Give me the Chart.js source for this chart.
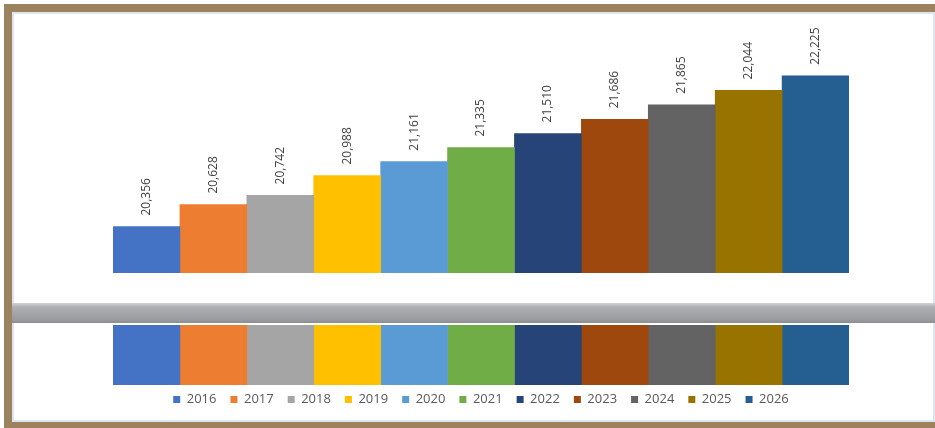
<!DOCTYPE html>
<html>
<head>
<meta charset="utf-8">
<script src="https://cdn.jsdelivr.net/npm/chart.js@4.4.1/dist/chart.umd.min.js"></script>
<style>
    html, body { margin: 0; padding: 0; background: #fff; overflow: hidden; }
    .stage { width: 935px; height: 428px; position: relative; overflow: hidden; }
    .frame {
        position: absolute; left: 4px; top: 4px;
        width: 923px; height: 410px;
        border-style: solid;
        border-color: #9d8260;
        border-width: 8px 0 8px 8px;
        box-shadow: inset 0 0 0 2px #dde6ee;
    }
    .top-wrap    { position: absolute; left: 0; top: 0; }
    .break-band  {
        position: absolute; left: 12px; top: 303px; width: 923px; height: 20px;
        background: linear-gradient(to bottom, #d2d3d6 0, #c0c2c5 2px, #aeb0b3 4px, #a4a6a9 50%, #989a9d 85%, #8b8d90 100%);
    }
    .bottom-wrap { position: absolute; left: 0; top: 325px; }
</style>
</head>
<body>
<div class="stage">
    <div class="frame"></div>
    <div class="top-wrap"><canvas id="chartTop" width="935" height="273"></canvas></div>
    <div class="break-band"></div>
    <div class="bottom-wrap"><canvas id="chartBottom" width="935" height="91"></canvas></div>
</div>

<script>
// ── Data ────────────────────────────────────────────────────
const years  = ['2016', '2017', '2018', '2019', '2020', '2021', '2022', '2023', '2024', '2025', '2026'];
const values = [20356, 20628, 20742, 20988, 21161, 21335, 21510, 21686, 21865, 22044, 22225];
const colors = ['#4472C4', '#ED7D31', '#A5A5A5', '#FFC000', '#5B9BD5', '#70AD47',
                '#264478', '#9E480E', '#636363', '#997300', '#255E91'];

// upper segment of the broken axis, lower segment is just the stub above zero
const upperMin = 19780, upperMax = 22880;
const lowerMax = 54;

Chart.defaults.font.family = "'Open Sans', 'DejaVu Sans', sans-serif";
Chart.defaults.animation = false;

function makeDatasets(extra) {
    return years.map((y, i) => Object.assign({
        label: y,
        data: [values[i]],
        backgroundColor: colors[i],
        borderWidth: 0,
        barPercentage: 1,
        categoryPercentage: 1
    }, extra));
}

// ── Vertical value labels above each bar ────────────────────
const valueLabels = {
    id: 'valueLabels',
    afterDatasetsDraw(chart) {
        const ctx = chart.ctx;
        ctx.save();
        ctx.font = "12px 'Open Sans'";
        ctx.fillStyle = '#404040';
        ctx.textAlign = 'left';
        ctx.textBaseline = 'middle';
        chart.data.datasets.forEach((ds, i) => {
            const bar = chart.getDatasetMeta(i).data[0];
            ctx.save();
            ctx.translate(bar.x, bar.y - 11);
            ctx.rotate(-Math.PI / 2);
            ctx.fillText(ds.data[0].toLocaleString('en-US'), 0, 0);
            ctx.restore();
        });
        ctx.restore();
    }
};

const hiddenScales = (min, max) => ({
    x: { display: false },
    y: { display: false, min, max }
});

// ── Top part (values range) ─────────────────────────────────
new Chart(document.getElementById('chartTop').getContext('2d'), {
    type: 'bar',
    data: { labels: [''], datasets: makeDatasets({}) },
    options: {
        responsive: false,
        layout: { padding: { left: 113, right: 86, top: 23, bottom: 0 } },
        plugins: { legend: { display: false }, tooltip: { enabled: false } },
        scales: hiddenScales(upperMin, upperMax)
    },
    plugins: [valueLabels]
});

// ── Bottom part (stub + legend) ─────────────────────────────
new Chart(document.getElementById('chartBottom').getContext('2d'), {
    type: 'bar',
    data: { labels: [''], datasets: makeDatasets({ base: -6, clip: { left: 0, right: 0, top: 0, bottom: 6 } }) },
    options: {
        responsive: false,
        layout: { padding: { left: 113, right: 86, top: 0, bottom: 0 } },
        plugins: {
            tooltip: { enabled: false },
            legend: {
                position: 'bottom',
                labels: {
                    boxWidth: 7,
                    boxHeight: 7,
                    padding: 14,
                    color: '#595959',
                    font: { size: 13 }
                }
            }
        },
        scales: hiddenScales(0, lowerMax)
    }
});
</script>
</body>
</html>
